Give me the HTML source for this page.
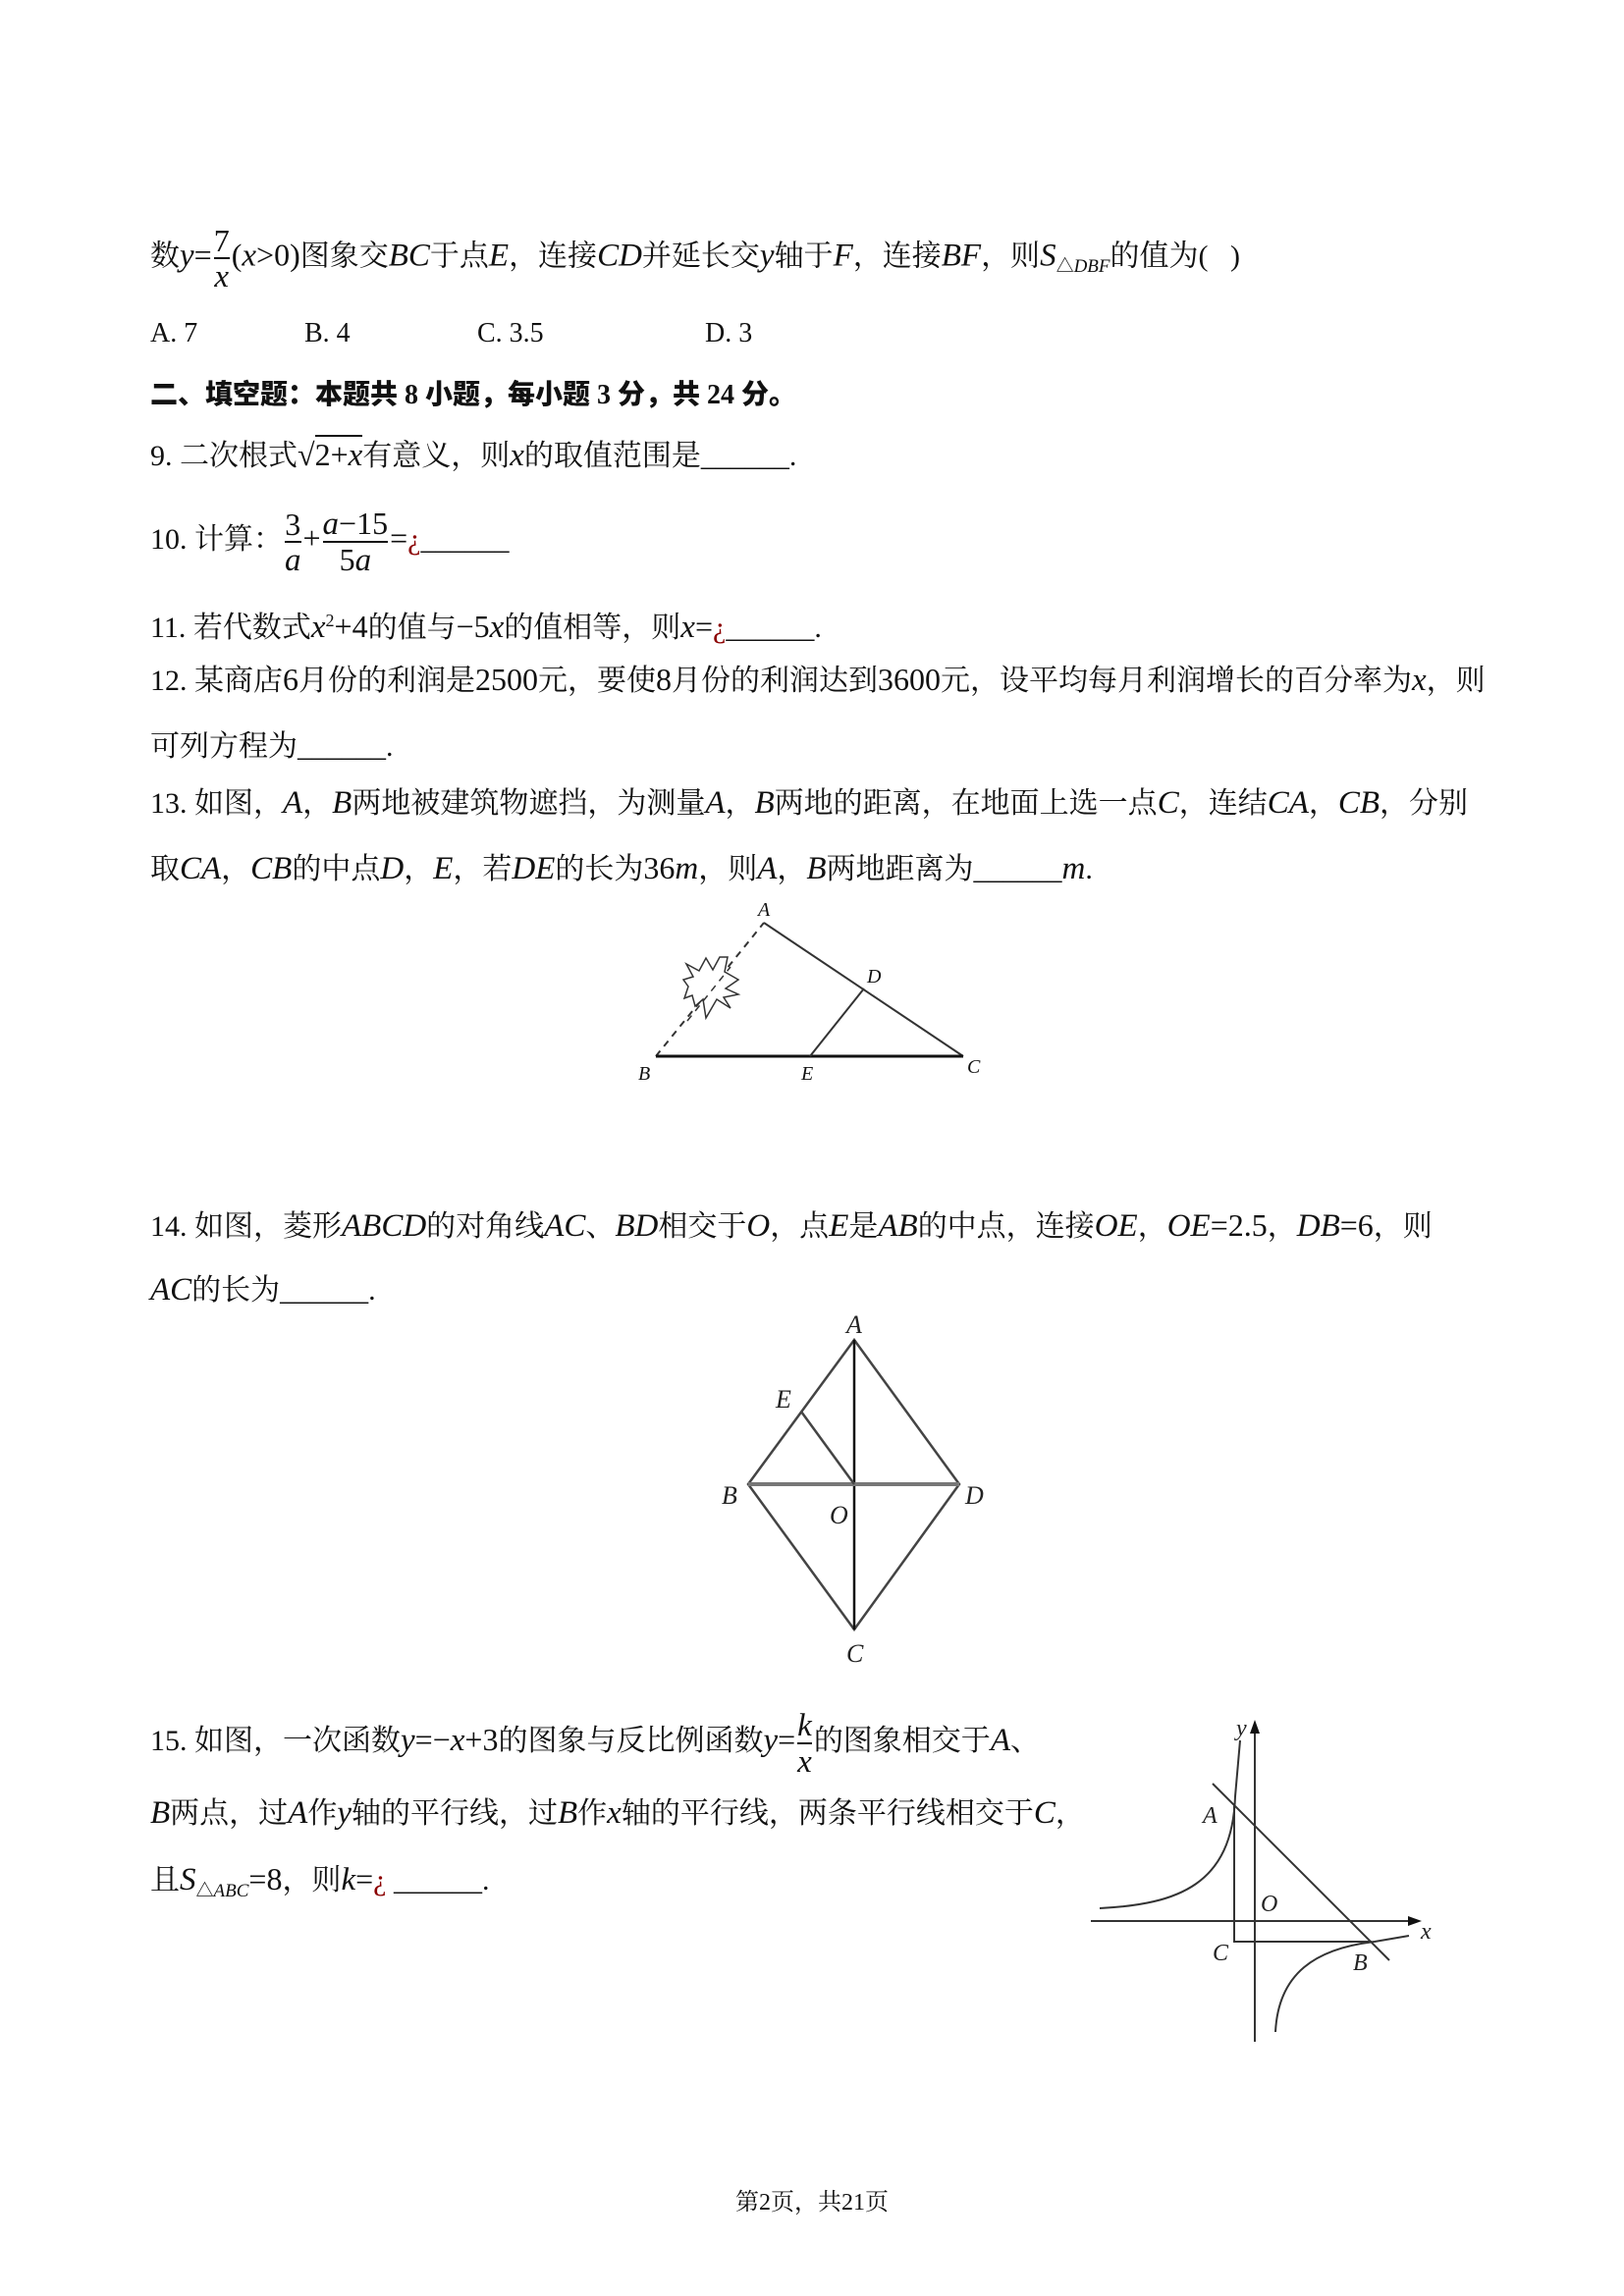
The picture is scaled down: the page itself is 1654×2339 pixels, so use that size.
<!DOCTYPE html>
<html><head><meta charset="utf-8"><style>
body{margin:0;background:#fff;}
.pg{position:relative;width:1654px;height:2339px;overflow:hidden;font-family:"Liberation Serif","Noto Serif CJK SC",serif;font-size:30px;color:#111;}
.l{position:absolute;left:153px;white-space:nowrap;line-height:36px;}
i{font-family:"Liberation Serif",serif;font-style:italic;font-size:33px;}
.m{font-size:32px;}
.r{color:#8b0000;}
.fr{display:inline-block;vertical-align:middle;text-align:center;line-height:34px;font-size:32px;margin:0 2px;}
.fr span{display:block;}
.fr .n{border-bottom:2px solid #111;}
sub{font-size:18px;}
sub i{font-size:19px;}
b{font-family:"Liberation Serif","Noto Sans CJK SC",sans-serif;}
</style></head><body><div class="pg">
<div class="l" style="top:228px">数<i>y</i><span class="m">=</span><span class="fr"><span class="n">7</span><span><i>x</i></span></span><span class="m">(</span><i>x</i><span class="m">&gt;0)</span>图象交<i>BC</i>于点<i>E</i>，连接<i>CD</i>并延长交<i>y</i>轴于<i>F</i>，连接<i>BF</i>，则<i>S</i><sub>△<i>DBF</i></sub>的值为(&nbsp;&nbsp;&nbsp;)</div>
<div class="l" style="top:322px;font-size:28px">A. 7</div>
<div class="l" style="top:322px;left:310px;font-size:28px">B. 4</div>
<div class="l" style="top:322px;left:486px;font-size:28px">C. 3.5</div>
<div class="l" style="top:322px;left:718px;font-size:28px">D. 3</div>
<div class="l" style="top:385px;font-weight:bold;font-size:28px"><b>二、填空题：本题共 8 小题，每小题 3 分，共 24 分。</b></div>
<div class="l" style="top:445px">9. 二次根式<span class="m">√<span style="border-top:2px solid #111">2+<i>x</i></span></span>有意义，则<i>x</i>的取值范围是______.</div>
<div class="l" style="top:516px">10. 计算：<span class="fr"><span class="n">3</span><span><i>a</i></span></span><span class="m">+</span><span class="fr"><span class="n"><i>a</i>−15</span><span>5<i>a</i></span></span><span class="m">=</span><span class="r">¿</span>______</div>
<div class="l" style="top:614px">11. 若代数式<i>x</i><sup style="font-size:18px">2</sup><span class="m">+4</span>的值与<span class="m">−5</span><i>x</i>的值相等，则<i>x</i><span class="m">=</span><span class="r">¿</span>______.</div>
<div class="l" style="top:674px">12. 某商店<span class="m">6</span>月份的利润是<span class="m">2500</span>元，要使<span class="m">8</span>月份的利润达到<span class="m">3600</span>元，设平均每月利润增长的百分率为<i>x</i>，则</div>
<div class="l" style="top:743px">可列方程为______.</div>
<div class="l" style="top:800px">13. 如图，<i>A</i>，<i>B</i>两地被建筑物遮挡，为测量<i>A</i>，<i>B</i>两地的距离，在地面上选一点<i>C</i>，连结<i>CA</i>，<i>CB</i>，分别</div>
<div class="l" style="top:866px">取<i>CA</i>，<i>CB</i>的中点<i>D</i>，<i>E</i>，若<i>DE</i>的长为<span class="m">36</span><i>m</i>，则<i>A</i>，<i>B</i>两地距离为______<i>m</i>.</div>
<div class="l" style="top:1230px">14. 如图，菱形<i>ABCD</i>的对角线<i>AC</i>、<i>BD</i>相交于<i>O</i>，点<i>E</i>是<i>AB</i>的中点，连接<i>OE</i>，<i>OE</i><span class="m">=2.5</span>，<i>DB</i><span class="m">=6</span>，则</div>
<div class="l" style="top:1296px"><i>AC</i>的长为______.</div>
<div class="l" style="top:1740px">15. 如图，一次函数<i>y</i><span class="m">=−</span><i>x</i><span class="m">+3</span>的图象与反比例函数<i>y</i><span class="m">=</span><span class="fr"><span class="n"><i>k</i></span><span><i>x</i></span></span>的图象相交于<i>A</i>、</div>
<div class="l" style="top:1829px"><i>B</i>两点，过<i>A</i>作<i>y</i>轴的平行线，过<i>B</i>作<i>x</i>轴的平行线，两条平行线相交于<i>C</i>，</div>
<div class="l" style="top:1896px">且<i>S</i><sub>△<i>ABC</i></sub><span class="m">=8</span>，则<i>k</i><span class="m">=</span><span class="r">¿</span> ______.</div>
<div class="l" style="top:2226px;left:0;width:1654px;text-align:center;font-size:24px">第2页，共21页</div>

<svg width="1654" height="2339" style="position:absolute;left:0;top:0" font-family="Liberation Serif" font-style="italic">
<g stroke="#333" fill="none">
<line x1="668" y1="1076" x2="778" y2="940" stroke-dasharray="7,6" stroke-width="2"/>
<line x1="778" y1="940" x2="981" y2="1076" stroke-width="2"/>
<line x1="668" y1="1076" x2="981" y2="1076" stroke-width="3" stroke="#111"/>
<line x1="825" y1="1076" x2="880" y2="1007" stroke-width="2"/>
<polygon stroke-width="1.5" fill="#fff" points="741,975 738,990 752,998 739,1007 752,1013 737,1016 744,1027 730,1018 719,1037 716,1018 708,1025 705,1014 697,1017 701,1005 696,998 706,995 699,982 712,989 719,976 726,988 733,975"/>
<line x1="700" y1="1040" x2="744" y2="985" stroke-dasharray="7,6" stroke-width="1.5"/>
</g>
<g font-size="20" fill="#111"><text x="772" y="933">A</text><text x="650" y="1100">B</text><text x="816" y="1100">E</text><text x="985" y="1093">C</text><text x="883" y="1001">D</text></g>
<g stroke="#444" stroke-width="2.5" fill="none">
<polygon points="870,1365 977,1512 870,1660 762,1512"/>
<line x1="870" y1="1365" x2="870" y2="1660" stroke="#111"/>
<line x1="762" y1="1512" x2="977" y2="1512" stroke="#777" stroke-width="4"/>
<line x1="816" y1="1438" x2="870" y2="1512"/>
</g>
<g font-size="26" fill="#222"><text x="862" y="1358">A</text><text x="790" y="1434">E</text><text x="735" y="1532">B</text><text x="845" y="1552">O</text><text x="983" y="1532">D</text><text x="862" y="1693">C</text></g>
<g stroke="#333" stroke-width="2" fill="none">
<line x1="1278" y1="2080" x2="1278" y2="1762"/>
<line x1="1111" y1="1957" x2="1440" y2="1957"/>
<line x1="1235" y1="1817" x2="1415" y2="1997"/>
<polyline points="1257,1837 1257,1978 1397,1978"/>
<path d="M1120,1944 C1200,1940 1255,1920 1258,1830 L1263,1773"/>
<path d="M1299,2070 C1302,2010 1340,1985 1400,1978 L1435,1972"/>
</g>
<polygon points="1278,1752 1273,1766 1283,1766" fill="#111"/>
<polygon points="1448,1957 1434,1952 1434,1962" fill="#111"/>
<g font-size="24" fill="#222"><text x="1259" y="1768">y</text><text x="1225" y="1857">A</text><text x="1284" y="1947">O</text><text x="1447" y="1975">x</text><text x="1235" y="1997">C</text><text x="1378" y="2007">B</text></g>
</svg>
</div></body></html>
